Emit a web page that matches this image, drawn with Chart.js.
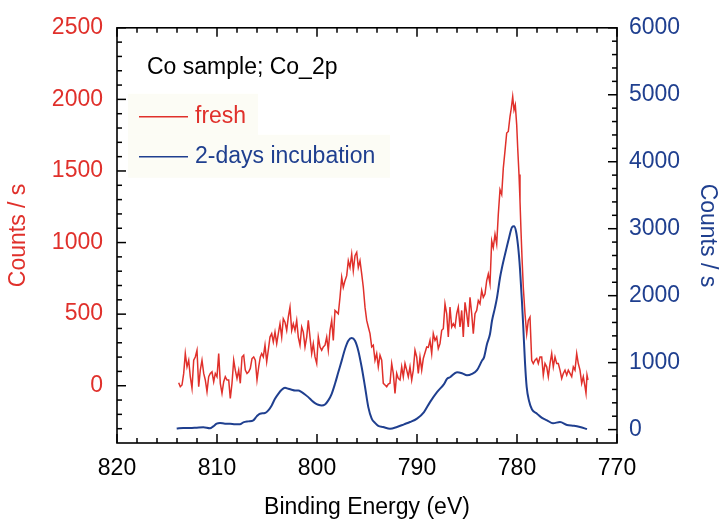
<!DOCTYPE html>
<html><head><meta charset="utf-8">
<script src="https://cdn.jsdelivr.net/npm/chart.js@4"></script>
<style>html,body{margin:0;padding:0;background:#fff;}canvas{display:block;}</style>
</head><body>
<canvas id="c" width="721" height="521"></canvas>
<script>
// ---- data ----
const freshEnergy = [813.83,813.67,813.5,813.33,813.17,813,812.83,812.67,812.5,812.33,812.17,812,811.83,811.67,811.5,811.33,811.17,811,810.83,810.67,810.5,810.33,810.17,810,809.83,809.67,809.5,809.33,809.17,809,808.83,808.67,808.5,808.33,808.17,808,807.83,807.67,807.5,807.33,807.17,807,806.83,806.67,806.5,806.33,806.17,806,805.83,805.67,805.53,805.37,805.2,805.03,804.87,804.7,804.53,804.37,804.2,804.03,803.87,803.7,803.53,803.37,803.2,803.03,802.87,802.7,802.53,802.37,802.2,802.03,801.87,801.7,801.53,801.37,801.2,801.03,800.87,800.7,800.53,800.37,800.2,800.03,799.87,799.7,799.53,799.37,799.2,799.03,798.87,798.7,798.53,798.37,798.2,798.03,797.87,797.7,797.53,797.37,797.2,797.03,796.87,796.7,796.53,796.37,796.2,796.03,795.87,795.7,795.53,795.37,795.2,795.03,794.87,794.7,794.53,794.37,794.2,794.03,793.87,793.7,793.53,793.37,793.2,793.03,792.87,792.7,792.53,792.37,792.2,792.03,791.87,791.7,791.53,791.37,791.2,791.03,790.87,790.7,790.53,790.37,790.2,790.03,789.87,789.7,789.53,789.37,789.2,789.03,788.87,788.7,788.53,788.37,788.2,788.03,787.87,787.7,787.53,787.37,787.2,787.03,786.87,786.7,786.53,786.37,786.2,786.03,785.87,785.7,785.53,785.37,785.2,785.03,784.87,784.7,784.53,784.37,784.2,784.03,783.87,783.7,783.53,783.37,783.2,783.03,782.87,782.7,782.53,782.37,782.2,782.03,781.87,781.7,781.53,781.37,781.2,781.03,780.87,780.7,780.57,780.43,780.3,780.17,780.03,779.93,779.8,779.7,779.6,779.5,779.37,779.2,779.03,778.87,778.7,778.53,778.37,778.2,778.03,777.87,777.7,777.53,777.37,777.2,777.03,776.87,776.7,776.53,776.37,776.2,776.03,775.87,775.7,775.53,775.37,775.2,775.03,774.87,774.7,774.53,774.37,774.2,774.03,773.87,773.7,773.53,773.37,773.2,773.1,773,772.9];
const freshCounts = [21,-7,5,86,225,132,178,63,-18,178,201,248,-7,109,178,86,40,-41,63,86,97,28,86,63,225,17,-53,28,63,40,40,-88,17,178,109,51,109,17,201,213,109,86,97,121,190,201,178,40,132,201,225,201,283,167,248,340,364,306,375,294,364,433,340,468,444,387,479,549,387,433,387,456,340,283,410,375,271,340,456,340,225,294,201,155,340,271,248,271,283,340,248,387,456,317,526,514,502,618,757,688,734,769,873,826,919,803,908,931,826,873,781,688,549,456,410,364,271,283,178,225,132,213,178,17,5,-7,12,17,155,86,-53,86,51,40,132,63,155,109,63,132,40,109,248,201,86,201,109,190,230,271,268,317,225,364,317,340,260,294,387,398,572,503,340,549,410,433,410,503,549,410,526,340,583,503,410,618,503,364,503,526,595,572,665,618,641,734,780,711,1012,965,1058,989,1197,1370,1336,1520,1640,1765,1776,1880,1938,2019,1926,1961,1822,1660,1475,1290,1081,896,688,503,364,456,479,178,155,178,190,155,201,201,74,155,132,63,155,225,132,201,155,155,109,51,86,109,74,109,86,63,132,109,225,155,109,17,63,-7,-53,74,40];
const incubEnergy = [814.03,813.37,812.7,812.03,811.37,810.7,810.37,810.03,809.7,809.2,808.7,808.2,807.7,807.37,806.87,806.37,806.03,805.7,805.2,804.87,804.53,804.2,803.87,803.53,803.2,802.87,802.53,802.2,801.87,801.53,801.2,800.87,800.53,800.2,799.87,799.53,799.2,798.87,798.53,798.2,797.87,797.53,797.2,796.87,796.53,796.2,795.87,795.53,795.2,794.87,794.53,794.2,793.87,793.4,792.7,792,791.3,790.7,790,789.3,788.7,788,787.3,787,786.7,786,785.5,785,784.5,784,783.5,783.3,783,782.7,782.5,782.2,782,781.7,781.5,781.2,780.8,780.5,780.3,780.1,779.9,779.7,779.5,779.37,779.2,779.03,778.8,778.5,778,777.5,777,776.4,775.7,775,774.3,773.7,773];
const incubCounts = [15,24,24,29,34,19,49,89,98,89,89,79,79,108,123,138,198,238,247,287,361,461,535,595,624,609,595,584,584,559,525,485,436,396,371,361,376,436,535,684,856,1030,1204,1327,1368,1327,1179,931,640,336,164,100,55,39,12,39,79,113,164,262,411,560,680,758,782,856,841,810,832,888,1030,1079,1278,1427,1625,1822,1971,2268,2420,2616,2863,3022,3037,2963,2750,2400,1900,1525,1000,633,430,300,238,175,138,95,113,70,58,39,8];
const seriesLabels = ['fresh', '2-days incubation'];
const xTickValues = [820, 810, 800, 790, 780, 770];
const leftTickValues = [0, 500, 1000, 1500, 2000, 2500];
const rightTickValues = [0, 1000, 2000, 3000, 4000, 5000, 6000];
const noteText = 'Co sample; Co_2p';

// ---- styling ----
const RED = '#E0302B';
const BLUE = '#1F3F8F';
const FONT = "'Liberation Sans', Arial, Helvetica, sans-serif";
const F23 = { family: FONT, size: 23 };
const plain = v => String(v);

const deco = {
  id: 'deco',
  beforeDatasetsDraw(chart) {
    const { ctx, chartArea: a } = chart;
    ctx.save();
    ctx.fillStyle = '#FCFCF5';
    ctx.fillRect(a.left + 11, a.top + 66, 130, 41);
    ctx.fillRect(a.left + 11, a.top + 107, 262, 43);
    ctx.restore();
  },
  afterDatasetsDraw(chart) {
    const { ctx, chartArea: a, scales } = chart;
    ctx.save();
    ctx.strokeStyle = '#000';
    ctx.lineWidth = 1.5;
    const seg = (x1, y1, x2, y2) => { ctx.beginPath(); ctx.moveTo(x1, y1); ctx.lineTo(x2, y2); ctx.stroke(); };
    const sx = scales.x;
    for (let v = sx.min; v <= sx.max; v += 2) {
      const px = sx.getPixelForValue(v);
      const len = v % 10 === 0 ? 9 : 5;
      seg(px, a.bottom, px, a.bottom - len);
      seg(px, a.top, px, a.top + len);
    }
    const sy = scales.y;
    for (let v = -300; v <= sy.max; v += 100) {
      const py = sy.getPixelForValue(v);
      seg(a.left, py, a.left + (v % 500 === 0 ? 9 : 5), py);
    }
    const sy2 = scales.y2;
    for (let v = 0; v <= sy2.max; v += 200) {
      const py = sy2.getPixelForValue(v);
      seg(a.right, py, a.right - (v % 1000 === 0 ? 9 : 5), py);
    }
    ctx.lineWidth = 1.6;
    ctx.strokeRect(a.left, a.top, a.right - a.left, a.bottom - a.top);

    // note text
    ctx.font = `23px ${FONT}`;
    ctx.textBaseline = 'middle';
    ctx.textAlign = 'left';
    ctx.fillStyle = '#000';
    ctx.fillText(noteText, a.left + 30, a.top + 39.5);
    // legend
    chart.data.datasets.forEach((ds, i) => {
      const y = a.top + 89 + i * 40;
      ctx.strokeStyle = ds.borderColor;
      ctx.lineWidth = 1.5;
      seg(a.left + 22, y, a.left + 71, y);
      ctx.fillStyle = ds.borderColor;
      ctx.fillText(ds.label, a.left + 78, y);
    });
    ctx.restore();
  }
};

new Chart(document.getElementById('c'), {
  type: 'line',
  data: {
    datasets: [
      {
        label: seriesLabels[0],
        data: freshEnergy.map((e, i) => ({ x: e, y: freshCounts[i] })),
        borderColor: RED, borderWidth: 1.5, pointRadius: 0, tension: 0,
        yAxisID: 'y', fill: false
      },
      {
        label: seriesLabels[1],
        data: incubEnergy.map((e, i) => ({ x: e, y: incubCounts[i] })),
        borderColor: BLUE, borderWidth: 2, pointRadius: 0,
        cubicInterpolationMode: 'monotone',
        yAxisID: 'y2', fill: false
      }
    ]
  },
  options: {
    responsive: false,
    devicePixelRatio: 1,
    animation: false,
    layout: { padding: { top: 26, left: 0, right: 0, bottom: 0 } },
    plugins: { legend: { display: false }, tooltip: { enabled: false } },
    scales: {
      x: {
        type: 'linear', position: 'bottom', reverse: true, min: 770, max: 820,
        afterFit: s => { s.height = 78; },
        afterBuildTicks: s => { s.ticks = xTickValues.map(v => ({ value: v })); },
        grid: { display: false, drawTicks: false },
        border: { display: false },
        ticks: { color: '#000', font: F23, padding: 12, maxRotation: 0, autoSkip: false, callback: plain },
        title: { display: true, text: 'Binding Energy (eV)', color: '#000', font: F23, padding: 0 }
      },
      y: {
        type: 'linear', position: 'left', min: -400, max: 2500,
        afterFit: s => { s.width = 117; },
        afterBuildTicks: s => { s.ticks = leftTickValues.map(v => ({ value: v })); },
        grid: { display: false, drawTicks: false },
        border: { display: false },
        ticks: { color: RED, font: F23, padding: 14, callback: plain },
        title: { display: true, text: 'Counts / s', color: RED, font: F23, padding: { top: 5, bottom: 0 } }
      },
      y2: {
        type: 'linear', position: 'right', min: -200, max: 6000,
        afterFit: s => { s.width = 104; },
        afterBuildTicks: s => { s.ticks = rightTickValues.map(v => ({ value: v })); },
        grid: { display: false, drawTicks: false },
        border: { display: false },
        ticks: { color: BLUE, font: F23, padding: 12, callback: plain },
        title: { display: true, text: 'Counts / s', color: BLUE, font: F23, padding: { top: 0, bottom: 0 } }
      }
    }
  },
  plugins: [deco]
});
</script>
</body></html>
